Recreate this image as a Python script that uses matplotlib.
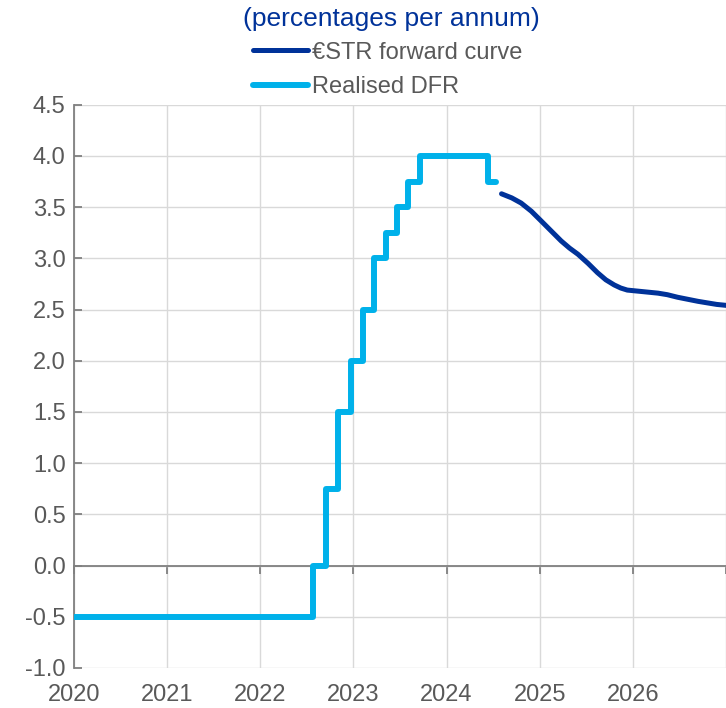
import numpy as np
import pandas as pd
import matplotlib
matplotlib.use("Agg")
import matplotlib.pyplot as plt

# Realised deposit facility rate: change dates and new level
dfr_dates = ["2020-01-01", "2022-07-27", "2022-09-14", "2022-11-02", "2022-12-21",
             "2023-02-08", "2023-03-22", "2023-05-10", "2023-06-21", "2023-08-02",
             "2023-09-20", "2024-06-12", "2024-07-12"]
dfr_values = [-0.50, 0.00, 0.75, 1.50, 2.00, 2.50, 3.00, 3.25, 3.50, 3.75, 4.00, 3.75, 3.75]

# €STR forward curve (decimal years, % p.a.)
fwd_time = [2024.59, 2024.70, 2024.80, 2024.91, 2025.01, 2025.12, 2025.23, 2025.32,
            2025.41, 2025.52, 2025.62, 2025.71, 2025.80, 2025.87, 2025.94, 2026.05,
            2026.16, 2026.27, 2026.37, 2026.48, 2026.59, 2026.70, 2026.80, 2026.90, 2027.01]
fwd_values = [3.63, 3.59, 3.54, 3.46, 3.37, 3.27, 3.17, 3.10, 3.04, 2.95, 2.86, 2.79,
              2.74, 2.71, 2.69, 2.68, 2.67, 2.66, 2.645, 2.62, 2.60, 2.58, 2.565, 2.55, 2.54]

year_ticks = [2020, 2021, 2022, 2023, 2024, 2025, 2026, 2027]
year_labels = ["2020", "2021", "2022", "2023", "2024", "2025", "2026", ""]
y_ticks = np.arange(-1.0, 4.51, 0.5)

DARK_BLUE = "#003299"
LIGHT_BLUE = "#00B1EA"
GREY_TEXT = "#595959"


def to_decimal_year(dates):
    d = pd.to_datetime(pd.Series(dates))
    days = np.where(d.dt.is_leap_year, 366, 365)
    return (d.dt.year + (d.dt.dayofyear - 1) / days).to_numpy()


plt.rcParams["font.family"] = ["Liberation Sans", "DejaVu Sans"]

fig = plt.figure(figsize=(7.26, 7.08), dpi=100)
ax = fig.add_axes([74 / 726, 1 - 668 / 708, 1 - 74 / 726, (668 - 104.7) / 708])

dfr_t = to_decimal_year(dfr_dates)
ax.plot(fwd_time, fwd_values, color=DARK_BLUE, linewidth=3.6,
        solid_capstyle="round", label="€STR forward curve", zorder=3)
ax.plot(dfr_t, dfr_values, color=LIGHT_BLUE, linewidth=4.3, drawstyle="steps-post",
        solid_capstyle="round", solid_joinstyle="round", label="Realised DFR", zorder=3)

ax.set_xlim(2020, 2027)
ax.set_ylim(-1.0, 4.5)
ax.set_xticks(year_ticks)
ax.set_xticklabels(year_labels)
ax.set_yticks(y_ticks)
ax.set_yticklabels([f"{v:.1f}" for v in y_ticks])
ax.grid(True, color="#d9d9d9", linewidth=1.0)
ax.set_axisbelow(True)

for s in ["top", "right"]:
    ax.spines[s].set_visible(False)
ax.spines["bottom"].set_position(("data", 0))
ax.spines["bottom"].set_color("#808080")
ax.spines["bottom"].set_linewidth(1.3)
ax.spines["left"].set_color("#808080")
ax.spines["left"].set_linewidth(1.3)

ax.tick_params(axis="x", direction="out", length=6, width=1.3, color="#808080",
               labelsize=17, labelcolor=GREY_TEXT, pad=79)
ax.tick_params(axis="y", direction="in", length=6, width=1.3, color="#808080",
               labelsize=17, labelcolor=GREY_TEXT, pad=6)

fig.text(391 / 726, 1 - 19 / 708, "(percentages per annum)", ha="center", va="center",
         fontsize=19, color=DARK_BLUE)
fig.legend(loc="center left", bbox_to_anchor=(253 / 726, 1 - 70 / 708), frameon=False,
           fontsize=17, labelcolor=GREY_TEXT, handlelength=2.33, handletextpad=0.17,
           borderpad=0, borderaxespad=0, labelspacing=0.55)

fig.savefig("out.png", dpi=100)
